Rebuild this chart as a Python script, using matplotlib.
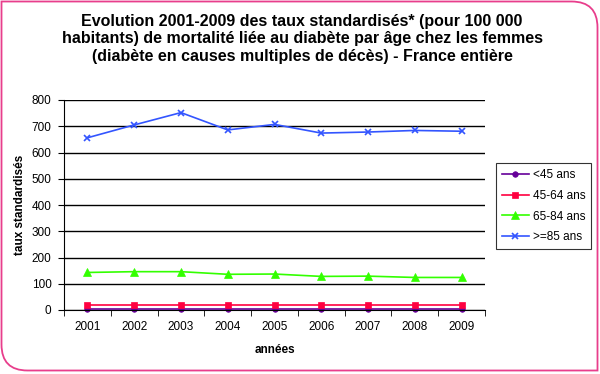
import matplotlib.pyplot as plt
from matplotlib.path import Path
from matplotlib.patches import PathPatch
from matplotlib import rcParams

rcParams['font.family'] = ['Liberation Sans', 'DejaVu Sans']

years = ['2001', '2002', '2003', '2004', '2005', '2006', '2007', '2008', '2009']
under45 = [3, 3, 3, 3, 3, 3, 3, 3, 3]
age45_64 = [18, 18, 18, 18, 18, 18, 18, 18, 18]
age65_84 = [143, 146, 146, 136, 137, 128, 129, 124, 124]
over85 = [656, 705, 752, 686, 707, 674, 678, 684, 681]

series = [
    ('<45 ans', under45, '#660099', 'o', 4),
    ('45-64 ans', age45_64, '#ff0040', 's', 5),
    ('65-84 ans', age65_84, '#33ff00', '^', 6),
    ('>=85 ans', over85, '#3355ff', 'x', 5),
]

W, H = 600, 374
fig = plt.figure(figsize=(6.0, 3.74), dpi=100)

# pink frame, rounded top-right and bottom-left corners
r = 26
x0, y0, x1, y1 = 1.5, 1.5, 597.5, 370.5
verts = [
    (x0, y0), (x1 - r, y0), (x1, y0), (x1, y0 + r),
    (x1, y1), (x0 + r, y1), (x0, y1), (x0, y1 - r), (x0, y0),
]
codes = [Path.MOVETO, Path.LINETO, Path.CURVE3, Path.CURVE3,
         Path.LINETO, Path.LINETO, Path.CURVE3, Path.CURVE3, Path.CLOSEPOLY]
verts = [(x / W, 1 - y / H) for x, y in verts]
frame = PathPatch(Path(verts, codes), transform=fig.transFigure,
                  facecolor='white', edgecolor='#e83e8c', lw=1.3, zorder=-5)
fig.patches.append(frame)

ax = fig.add_axes([64 / W, 1 - 310 / H, (485 - 64) / W, 210 / H])
ax.set_facecolor('none')
xs = range(len(years))
for name, vals, col, mk, ms in series:
    ax.plot(xs, vals, color=col, marker=mk, markersize=ms, lw=1.2, label=name,
            markeredgewidth=1.2 if mk == 'x' else 0.5, clip_on=False)

ax.set_xlim(-0.5, len(years) - 0.5)
ax.set_ylim(0, 800)
ax.set_yticks(range(0, 801, 100))
ax.set_xticks(xs)
ax.set_xticklabels(years)
ax.set_xticks([i - 0.5 for i in range(len(years) + 1)], minor=True)
ax.tick_params(axis='x', which='major', length=0, labelsize=8.5, pad=8)
ax.tick_params(axis='x', which='minor', length=4, direction='out')
ax.tick_params(axis='y', length=4, direction='out', labelsize=8.5, pad=5)
ax.yaxis.grid(True, color='black', lw=1)
ax.set_axisbelow(True)
for s in ['top', 'right']:
    ax.spines[s].set_visible(False)
ax.set_ylabel('taux standardisés', fontsize=8.5, fontweight='bold', labelpad=4)
ax.set_xlabel('années', fontsize=8.5, fontweight='bold', labelpad=8)

fig.text(302 / W, 1 - 39 / H,
         'Evolution 2001-2009 des taux standardisés* (pour 100 000\n'
         'habitants) de mortalité liée au diabète par âge chez les femmes\n'
         '(diabète en causes multiples de décès) - France entière',
         ha='center', va='center', fontsize=11.5, fontweight='bold', linespacing=1.2)

leg = fig.legend(loc='upper left', bbox_to_anchor=(496 / W, 1 - 163 / H),
                 fontsize=8.5, frameon=True, fancybox=False, edgecolor='black',
                 handlelength=2.3, labelspacing=0.75, borderpad=0.5,
                 handletextpad=0.3, borderaxespad=0)
leg.get_frame().set_linewidth(0.8)

plt.savefig('out.png', dpi=100)
